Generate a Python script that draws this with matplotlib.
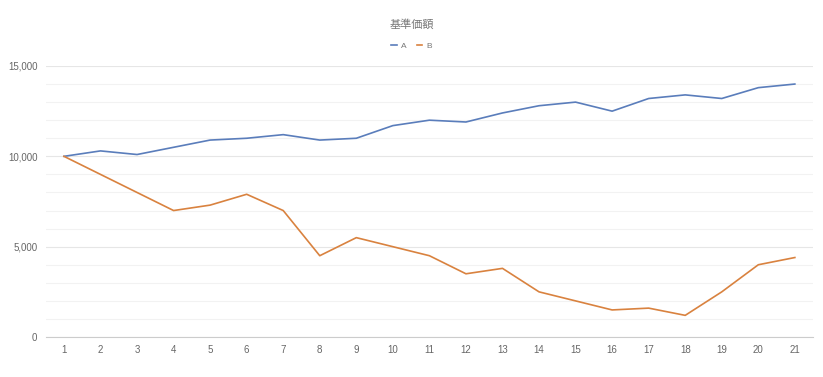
import matplotlib.pyplot as plt
from matplotlib.ticker import MultipleLocator, FuncFormatter

plt.rcParams['font.family'] = ['Liberation Sans', 'Noto Sans CJK JP', 'DejaVu Sans']

title = '基準価額'
x = list(range(1, 22))
a_vals = [10000, 10300, 10100, 10500, 10900, 11000, 11200, 10900, 11000, 11700, 12000,
          11900, 12400, 12800, 13000, 12500, 13200, 13400, 13200, 13800, 14000]
b_vals = [10000, 9000, 8000, 7000, 7300, 7900, 7000, 4500, 5500, 5000, 4500,
          3500, 3800, 2500, 2000, 1500, 1600, 1200, 2500, 4000, 4400]

fig = plt.figure(figsize=(8.23, 3.77), dpi=100)
ax = fig.add_axes([0.0555, 0.106, 0.9325, 0.719])

ax.plot(x, a_vals, color='#5a7dbb', lw=1.2, label='A', zorder=3)
ax.plot(x, b_vals, color='#d9823f', lw=1.2, label='B', zorder=3)

ax.set_xlim(0.5, 21.5)
ax.set_ylim(0, 15000)
ax.set_xticks(x)
ax.yaxis.set_major_locator(MultipleLocator(5000))
ax.yaxis.set_minor_locator(MultipleLocator(1000))
ax.yaxis.set_major_formatter(FuncFormatter(lambda v, p: f'{int(v):,}'))
ax.grid(which='major', axis='y', color='#e6e6e6', lw=0.8)
ax.grid(which='minor', axis='y', color='#f2f2f2', lw=0.8)
ax.set_axisbelow(True)

for s in ['top', 'right', 'left']:
    ax.spines[s].set_visible(False)
ax.spines['bottom'].set_color('#cccccc')
ax.tick_params(axis='both', which='both', length=0, labelsize=7, colors='#666666')
ax.tick_params(axis='x', pad=6)
ax.tick_params(axis='y', pad=6)

fig.text(0.5, 0.935, title, ha='center', va='center', fontsize=8, color='#777777',
         family=['Noto Sans CJK JP', 'DejaVu Sans'])
fig.legend(loc='center', bbox_to_anchor=(0.5, 0.878), ncol=2, frameon=False,
           fontsize=6, handlelength=0.7, handletextpad=0.5, columnspacing=1.2,
           labelcolor='#777777')

fig.savefig('out.png', dpi=100, facecolor='white')
